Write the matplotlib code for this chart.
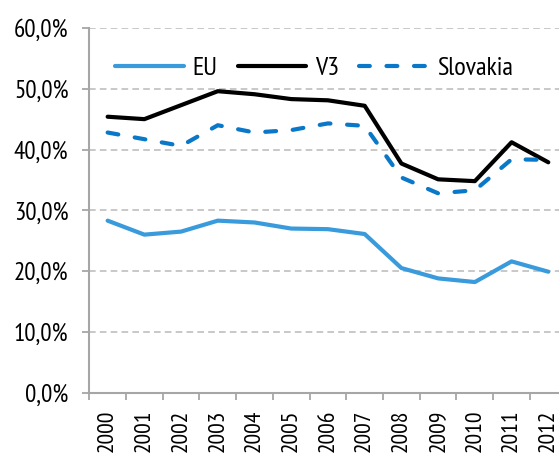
import numpy as np
import matplotlib
matplotlib.use('Agg')
import matplotlib.pyplot as plt
from matplotlib import font_manager as fm
from matplotlib.ticker import FuncFormatter, FixedLocator

# data (share, %)
years = ['2000', '2001', '2002', '2003', '2004', '2005', '2006',
         '2007', '2008', '2009', '2010', '2011', '2012']
eu = [28.3, 26.0, 26.5, 28.3, 28.0, 27.0, 26.9, 26.1, 20.5, 18.8, 18.2, 21.6, 19.9]
v3 = [45.4, 45.0, 47.3, 49.6, 49.1, 48.3, 48.1, 47.2, 37.7, 35.1, 34.8, 41.2, 37.9]
slovakia = [42.8, 41.7, 40.6, 44.0, 42.8, 43.2, 44.3, 43.9, 35.4, 32.8, 33.3, 38.4, 38.3]
yticks = [0, 10, 20, 30, 40, 50, 60]

# the original uses a narrow Arial; take the first narrow sans that is installed
installed = set(f.name for f in fm.fontManager.ttflist)
narrow = [n for n in ['Arial Narrow', 'Liberation Sans Narrow', 'PT Sans Narrow',
                      'Roboto Condensed', 'Archivo Narrow', 'Pragati Narrow']
          if n in installed]
if narrow:
    plt.rcParams['font.family'] = [narrow[0], 'DejaVu Sans']
    ytick_size, xtick_size, legend_size = 18, 17, 19
else:
    plt.rcParams['font.family'] = ['Liberation Sans', 'DejaVu Sans']
    ytick_size, xtick_size, legend_size = 13, 13, 14

fig = plt.figure(figsize=(5.59, 4.55), dpi=100)
# plot area runs past the right edge of the picture, like the original crop
ax = fig.add_axes([0.1597, 0.137, 0.854, 0.8015])

xpos = np.arange(len(years))
ax.plot(xpos, eu, color='#3A9BDC', lw=3, solid_capstyle='round', label='EU', zorder=3)
ax.plot(xpos, v3, color='black', lw=3, solid_capstyle='round', label='V3', zorder=3)
ax.plot(xpos, slovakia, color='#0A78C8', lw=3, dashes=(2.6, 4.0),
        dash_capstyle='round', label='Slovakia', zorder=3)

ax.set_xlim(-0.5, len(years) - 0.5)
ax.set_ylim(0, 60)

# y axis
ax.set_yticks(yticks)
ax.yaxis.set_major_formatter(FuncFormatter(lambda v, p: f'{v:.1f}%'.replace('.', ',')))
ax.tick_params(axis='y', length=5, width=1.3, color='#A6A6A6', pad=10, labelsize=ytick_size)
ax.yaxis.grid(True, color='#BFBFBF', lw=1.2, linestyle=(0, (4, 2.5)))
ax.set_axisbelow(True)

# x axis: labels at category centres, tick marks at boundaries
ax.set_xticks(xpos)
ax.set_xticklabels(years, rotation=90)
ax.tick_params(axis='x', which='major', length=0, pad=12, labelsize=xtick_size)
ax.xaxis.set_minor_locator(FixedLocator(xpos - 0.5))
ax.tick_params(axis='x', which='minor', length=5, width=1.3, color='#A6A6A6')

for side in ['top', 'right']:
    ax.spines[side].set_visible(False)
for side in ['left', 'bottom']:
    ax.spines[side].set_color('#A6A6A6')
    ax.spines[side].set_linewidth(1.5)

ax.legend(loc='center left', bbox_to_anchor=(0.054, 0.89), ncol=3, frameon=False,
          fontsize=legend_size, handlelength=2.6, handletextpad=0.34, columnspacing=0.76,
          borderpad=0, borderaxespad=0)

fig.savefig('out.png', dpi=100)
